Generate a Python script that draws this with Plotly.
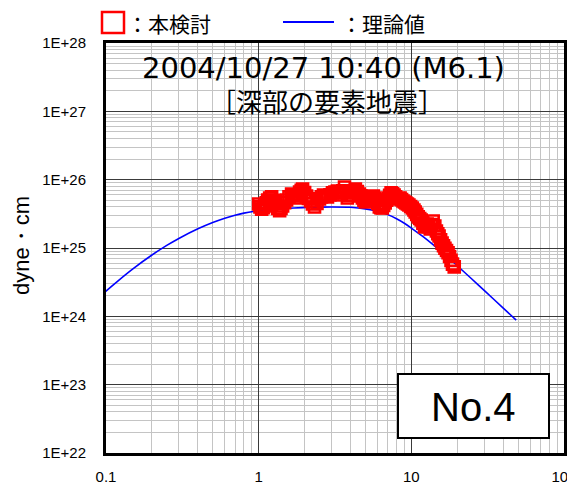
import plotly.graph_objects as go

# ---- data ----
obs_freq = [1.00, 1.02, 1.046, 1.07, 1.094, 1.12, 1.145, 1.18, 1.216, 1.25,
            1.291, 1.33, 1.372, 1.40, 1.435, 1.48, 1.524, 1.58, 1.643, 1.69,
            1.745, 1.80, 1.853, 1.90, 1.939, 2.00, 2.059, 2.12, 2.187, 2.25,
            2.322, 2.41, 2.503, 2.58, 2.659, 2.74, 2.824, 2.93, 3.044, 3.16,
            3.28, 3.38, 3.48, 3.56, 3.65, 3.73, 3.81, 3.93, 4.05, 4.17,
            4.30, 4.43, 4.57, 4.67, 4.78, 4.89, 5.00, 5.15, 5.31, 5.47,
            5.64, 5.77, 5.90, 6.03, 6.17, 6.31, 6.45, 6.59, 6.74, 6.89,
            7.05, 7.21, 7.37, 7.54, 7.71, 7.89, 8.07, 8.25, 8.44, 8.63,
            8.82, 9.02, 9.22, 9.43, 9.64, 9.9, 10.15, 10.4, 10.6, 10.85,
            11.1, 11.35, 11.6, 11.9, 12.2, 12.45, 12.7, 13.0, 13.3, 13.6,
            13.9, 14.25, 14.6, 14.9, 15.2, 15.55, 15.9, 16.25, 16.6, 17.0,
            17.4, 17.8, 18.2, 18.6, 19.1]
obs_moment = [4.40e25, 4.0e25, 3.7e25, 3.9e25, 4.12e25, 4.6e25, 5.04e25, 5.4e25, 5.6e25, 5.0e25,
              4.4e25, 3.8e25, 3.5e25, 3.8e25, 4.12e25, 4.6e25, 5.04e25, 5.6e25, 6.17e25, 5.8e25,
              5.39e25, 6.0e25, 6.6e25, 7.0e25, 7.3e25, 6.5e25, 5.77e25, 5.3e25, 4.87e25, 4.4e25,
              3.98e25, 4.5e25, 5.2e25, 5.6e25, 5.97e25, 5.8e25, 5.6e25, 6.0e25, 6.4e25, 6.6e25,
              6.8e25, 6.4e25, 5.97e25, 6.9e25, 7.8e25, 6.5e25, 5.39e25, 5.9e25, 6.4e25, 6.9e25,
              7.3e25, 6.7e25, 6.17e25, 5.8e25, 5.39e25, 5.0e25, 4.71e25, 4.95e25, 5.2e25, 5.5e25,
              5.77e25, 5.4e25, 5.04e25, 4.5e25, 3.98e25, 3.9e25, 3.85e25, 4.2e25, 4.55e25, 5.0e25,
              5.39e25, 5.9e25, 6.4e25, 6.2e25, 5.97e25, 5.6e25, 5.2e25, 5.3e25, 5.39e25, 5.1e25,
              4.87e25, 4.7e25, 4.55e25, 4.4e25, 4.26e25, 4.05e25, 3.85e25, 3.6e25, 3.36e25, 3.1e25,
              2.85e25, 2.7e25, 2.57e25, 2.3e25, 2.03e25, 2.15e25, 2.24e25, 2.05e25, 1.9e25, 2.2e25,
              2.48e25, 2.1e25, 1.77e25, 1.62e25, 1.5e25, 1.32e25, 1.18e25, 1.08e25, 9.9e24, 9.2e24,
              8.5e24, 7.5e24, 6.6e24, 5.8e24, 5.3e24]

theory_freq = [0.094, 0.1, 0.12, 0.15, 0.2, 0.25, 0.3, 0.4, 0.5, 0.6, 0.7, 0.8, 1.0, 1.3,
               1.7, 2.2, 3, 4, 5, 6, 7, 8, 9, 10, 12, 14, 17, 20, 25, 30, 40, 48.6]
theory_moment = [2.07e24, 2.34e24, 3.31e24, 4.95e24, 7.89e24, 1.09e25, 1.38e25, 1.91e25,
                 2.36e25, 2.73e25, 3.02e25, 3.24e25, 3.53e25, 3.72e25, 3.85e25, 3.94e25,
                 3.98e25, 3.94e25, 3.74e25, 3.44e25, 3.08e25, 2.68e25, 2.30e25, 1.96e25,
                 1.45e25, 1.10e25, 7.59e24, 5.5e24, 3.49e24, 2.4e24, 1.32e24, 8.8e23]

x_ticks = [0.1, 1, 10, 100]
x_tick_text = ["0.1", "1", "10", "100"]
y_ticks = [1e22, 1e23, 1e24, 1e25, 1e26, 1e27, 1e28]
y_tick_text = ["1E+22", "1E+23", "1E+24", "1E+25", "1E+26", "1E+27", "1E+28"]

title_line1 = "2004/10/27 10:40 (M6.1)"
title_line2 = "［深部の要素地震］"
legend_obs = "：本検討"
legend_theory = "：理論値"
y_title = "dyne・cm"
panel_label = "No.4"

minor_x = [float(m) * 10.0 ** e for e in (-1, 0, 1) for m in range(2, 10)]
minor_y = [float(m) * 10.0 ** e for e in range(22, 28) for m in range(2, 10)]

JP = "Noto Sans CJK JP"
AR = "Liberation Sans, Arial"

fig = go.Figure()
fig.add_trace(go.Scatter(x=theory_freq, y=theory_moment, mode="lines",
                         line=dict(color="#0000ff", width=1.6, shape="spline", smoothing=0.5),
                         showlegend=False))
fig.add_trace(go.Scatter(x=obs_freq, y=obs_moment, mode="markers",
                         marker=dict(symbol="square-open", size=11, color="#ff0000",
                                     line=dict(width=2.6)),
                         showlegend=False))

# page is drawn with an 8px body margin, so compensate
OFF = 8
PW, PH = 575, 483                       # page size
PL, PR, PT, PB = 106, 564, 43, 453      # plot box in page pixels
W, H = PW - OFF, PH - OFF
L, T = PL - OFF, PT - OFF
R, B = W - (PR - OFF), H - (PB - OFF)
pw, ph = PR - PL, PB - PT

def px(x):
    return (x - PL) / pw

def py(y):
    return (PB - y) / ph

axis_common = dict(showgrid=True, gridcolor="#3a3a3a", gridwidth=1,
                   showline=True, mirror=True, linecolor="black", linewidth=3,
                   ticks="", tickfont=dict(size=15, family=AR),
                   zeroline=False, automargin=False, ticklabeloverflow="allow")

fig.update_layout(
    width=W, height=H,
    margin=dict(l=L, r=R, t=T, b=B, pad=0),
    paper_bgcolor="white", plot_bgcolor="white",
    font=dict(family=AR, color="black", size=15),
    xaxis=dict(type="log", range=[-1, 2], tickvals=x_ticks, ticktext=x_tick_text,
               ticklabelstandoff=8,
               minor=dict(tickvals=minor_x, showgrid=True, gridcolor="#c4c4c4", gridwidth=1),
               **axis_common),
    yaxis=dict(type="log", range=[22, 28], tickvals=y_ticks, ticktext=y_tick_text,
               ticklabelstandoff=14,
               minor=dict(tickvals=minor_y, showgrid=True, gridcolor="#c4c4c4", gridwidth=1),
               **axis_common),
)

shapes = [
    dict(type="rect", xref="paper", yref="paper", x0=px(102), x1=px(124), y0=py(33), y1=py(12),
         line=dict(color="#ff0000", width=2.5), fillcolor="white", layer="above"),
    dict(type="line", xref="paper", yref="paper", x0=px(283), x1=px(334), y0=py(22), y1=py(22),
         line=dict(color="#0000ff", width=2)),
    dict(type="rect", xref="paper", yref="paper", x0=px(398), x1=px(549), y0=py(438), y1=py(374),
         line=dict(color="black", width=2), fillcolor="white", layer="above"),
]
fig.update_layout(shapes=shapes)

annotations = [
    dict(text=legend_obs, xref="paper", yref="paper", x=px(125), y=py(23),
         xanchor="left", yanchor="middle", showarrow=False, font=dict(family=JP, size=21)),
    dict(text=legend_theory, xref="paper", yref="paper", x=px(339), y=py(23),
         xanchor="left", yanchor="middle", showarrow=False, font=dict(family=JP, size=21)),
    dict(text=title_line1, xref="paper", yref="paper", x=px(323), y=py(68),
         xanchor="center", yanchor="middle", showarrow=False,
         font=dict(family="DejaVu Sans", size=29)),
    dict(text=title_line2, xref="paper", yref="paper", x=px(327), y=py(100),
         xanchor="center", yanchor="middle", showarrow=False, font=dict(family=JP, size=26)),
    dict(text=panel_label, xref="paper", yref="paper", x=px(473), y=py(407),
         xanchor="center", yanchor="middle", showarrow=False, font=dict(family=AR, size=40)),
    dict(text=y_title, xref="paper", yref="paper", x=px(21), y=py(246),
         xanchor="center", yanchor="middle", textangle=-90, showarrow=False,
         font=dict(family=AR, size=22)),
]
fig.update_layout(annotations=annotations)

fig.write_html("out.html")
